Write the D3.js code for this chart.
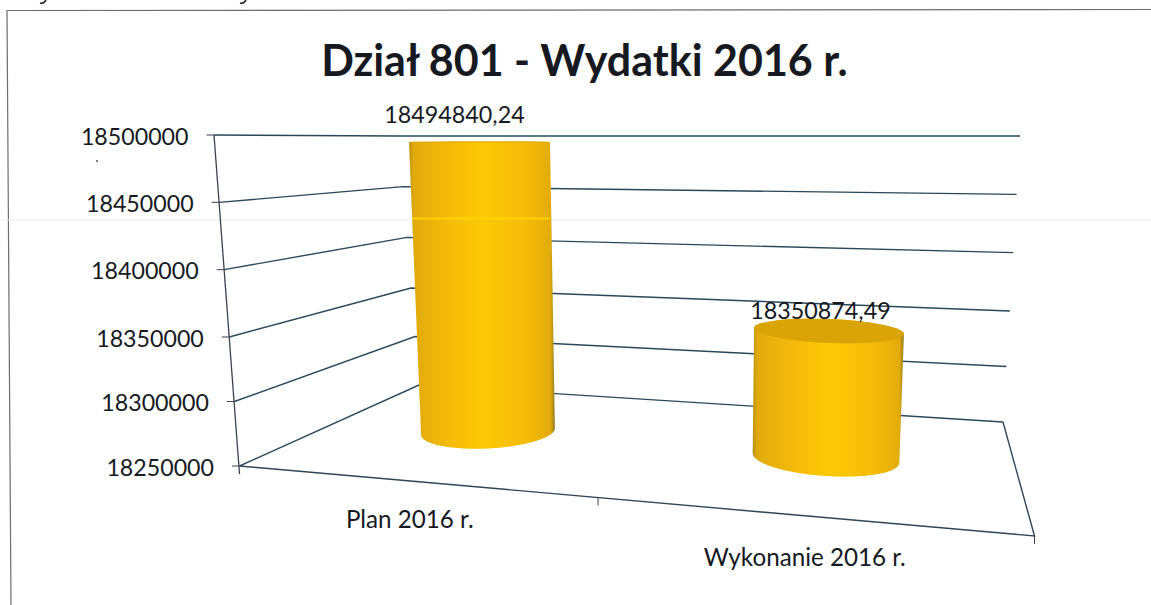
<!DOCTYPE html>
<html>
<head>
<meta charset="utf-8">
<script src="https://cdn.jsdelivr.net/npm/d3@7"></script>
<style>
  html, body { margin:0; padding:0; background:#fff; overflow:hidden; }
  svg { display:block; }
  text { font-family:Lato, "Open Sans", sans-serif; fill:#16191f; }
</style>
</head>
<body>
<svg id="chart" width="1151" height="605"></svg>
<script>
// ==================== DATA ====================
const title = "Dział 801 - Wydatki 2016 r.";
const categories = ["Plan 2016 r.", "Wykonanie 2016 r."];
const values = [18494840.24, 18350874.49];
const valueLabels = ["18494840,24", "18350874,49"];
const yTicks = [18250000, 18300000, 18350000, 18400000, 18450000, 18500000];

// ==================== 3D LAYOUT ====================
const yMin = yTicks[0], yMid = yTicks[2], yMax = yTicks[5];
const W = 1151, H = 605;

// one pair of scales per vertical edge of the box (3 stops because of the perspective)
function edge(xs, ys){
    return {
        x: d3.scaleLinear().domain([yMin, yMax]).range(xs),
        y: d3.scaleLinear().domain([yMin, yMid, yMax]).range(ys)
    };
}
const frontEdge = edge([239.5, 214], [466, 337, 135]);
const backEdge  = edge([419, 399],   [385, 288, 136]);
const rightEdge = edge([1003, 1020], [422, 311, 136]);

// floor front line, category positions along it
const floorX = d3.scaleLinear().domain([0, 1, 2]).range([239.5, 598, 1034.5]);
const floorY = d3.scaleLinear().domain([floorX(0), floorX(2)]).range([466, 536]);

// each column: ellipse at the floor and at the top of the value range
const columnGeom = [
    { cx:[488, 479.3], cy:[431.5, 135.9], rx:[67, 70.6], ry:[17, 0.2], tilt:[-3, 0],
      labelDx:-25, labelDy:-19.5, catDx:-9, catY:528 },
    { cx:[826, 833.4], cy:[458, 143.3], rx:[73.5, 77.2], ry:[18, 3.1], tilt:[3.9, 0],
      labelDx:-8.5, labelDy:-12, catDx:-11.5, catY:566 }
];

// ==================== DRAW ====================
const svg = d3.select("#chart");

const defs = svg.append("defs");
const grad = defs.append("linearGradient").attr("id", "cylinder");
[[0, "#b8921a"], [0.03, "#e0aa0e"], [0.25, "#f3b90b"], [0.5, "#fdc905"],
 [0.8, "#f5bc09"], [0.97, "#e2ac0c"], [1, "#8f7a20"]].forEach(s => {
    grad.append("stop").attr("offset", s[0]).attr("stop-color", s[1]);
});

// chart frame + scan leftovers
svg.append("path")
    .attr("d", "M11,605L7,10.5L1151,9.5")
    .attr("fill", "none").attr("stroke", "#6d6d6d").attr("stroke-width", 1.2);
svg.append("line")
    .attr("x1", 0).attr("x2", W).attr("y1", 220).attr("y2", 220)
    .attr("stroke", "#ececec").attr("stroke-width", 1);
svg.append("circle").attr("cx", 97).attr("cy", 161).attr("r", 1).attr("fill", "#555");
[43, 243].forEach(x => {
    svg.append("path")
        .attr("d", `M${x+3},0Q${x+1},4 ${x-3},3`)
        .attr("fill", "none").attr("stroke", "#222").attr("stroke-width", 1.6);
});

svg.append("text")
    .attr("x", 584.5).attr("y", 76)
    .attr("text-anchor", "middle")
    .style("font-size", "43px").style("font-weight", "700")
    .text(title);

// gridlines: front edge -> back corner -> right edge
const gridLine = d3.line();
svg.append("g").selectAll("path")
    .data(yTicks)
    .join("path")
    .attr("fill", "none")
    .attr("stroke", "#28495c")
    .attr("stroke-width", 1.4)
    .attr("d", v => gridLine([
        [frontEdge.x(v), frontEdge.y(v)],
        [backEdge.x(v), backEdge.y(v)],
        [rightEdge.x(v), rightEdge.y(v)]
    ]));

const axisColor = "#3a3f52";

// value axis
svg.append("line")
    .attr("x1", frontEdge.x(yMax)).attr("y1", frontEdge.y(yMax))
    .attr("x2", frontEdge.x(yMin)).attr("y2", frontEdge.y(yMin) + 8)
    .attr("stroke", axisColor).attr("stroke-width", 1.3);

const tick = svg.append("g").selectAll("g")
    .data(yTicks)
    .join("g")
    .attr("transform", v => `translate(${frontEdge.x(v)},${frontEdge.y(v)})`);
tick.append("line")
    .attr("x1", -7.5).attr("x2", 0)
    .attr("stroke", axisColor).attr("stroke-width", 1);
tick.append("text")
    .attr("x", -25.5).attr("y", 9.5)
    .attr("text-anchor", "end")
    .style("font-size", "23.2px")
    .text(v => v);

// floor
svg.append("path")
    .attr("d", d3.line()([[floorX(0), floorY(floorX(0))], [floorX(2), floorY(floorX(2))],
                          [rightEdge.x(yMin), rightEdge.y(yMin)]]))
    .attr("fill", "none").attr("stroke", "#2f4658").attr("stroke-width", 1.4);
svg.append("g").selectAll("line")
    .data([1, 2])
    .join("line")
    .attr("x1", i => floorX(i)).attr("x2", i => floorX(i))
    .attr("y1", i => floorY(floorX(i))).attr("y2", i => floorY(floorX(i)) + 8)
    .attr("stroke", axisColor).attr("stroke-width", 1);

// columns
function geomAt(g, v){
    const s = r => d3.scaleLinear().domain([yMin, yMax]).range(r)(v);
    return { cx:s(g.cx), cy:s(g.cy), rx:s(g.rx), ry:s(g.ry), tilt:s(g.tilt) };
}
function ends(e){
    const a = e.tilt * Math.PI / 180;
    return {
        x0:e.cx - e.rx * Math.cos(a), y0:e.cy - e.rx * Math.sin(a),
        x1:e.cx + e.rx * Math.cos(a), y1:e.cy + e.rx * Math.sin(a)
    };
}

const column = svg.append("g").selectAll("g")
    .data(values.map((v, i) => ({ v, i, g:columnGeom[i] })))
    .join("g");

column.append("path")
    .attr("fill", "url(#cylinder)")
    .attr("d", d => {
        const b = geomAt(d.g, yMin), t = geomAt(d.g, d.v);
        const eb = ends(b), et = ends(t);
        return `M${et.x0},${et.y0}L${eb.x0},${eb.y0}`
            + `A${b.rx},${b.ry} ${b.tilt} 0 0 ${eb.x1},${eb.y1}`
            + `L${et.x1},${et.y1}`
            + `A${t.rx},${t.ry} ${t.tilt} 0 0 ${et.x0},${et.y0}Z`;
    });
column.append("ellipse")
    .attr("cx", 0).attr("cy", 0)
    .attr("transform", d => {
        const t = geomAt(d.g, d.v);
        return `translate(${t.cx},${t.cy}) rotate(${t.tilt})`;
    })
    .attr("rx", d => geomAt(d.g, d.v).rx)
    .attr("ry", d => geomAt(d.g, d.v).ry)
    .attr("fill", "#d9a406");

// scan band over the first column
svg.append("line")
    .attr("x1", 412).attr("x2", 550).attr("y1", 218.5).attr("y2", 218.5)
    .attr("stroke", "#ffdc00").attr("stroke-width", 2).attr("opacity", 0.8);

// value labels
svg.append("g").selectAll("text")
    .data(values.map((v, i) => ({ v, i, g:columnGeom[i] })))
    .join("text")
    .attr("x", d => geomAt(d.g, d.v).cx + d.g.labelDx)
    .attr("y", d => geomAt(d.g, d.v).cy + d.g.labelDy)
    .attr("text-anchor", "middle")
    .style("font-size", "23.3px")
    .text(d => valueLabels[d.i]);

// category labels
svg.append("g").selectAll("text")
    .data(categories)
    .join("text")
    .attr("x", (c, i) => floorX(i + 0.5) + columnGeom[i].catDx)
    .attr("y", (c, i) => columnGeom[i].catY)
    .attr("text-anchor", "middle")
    .style("font-size", "24.2px")
    .text(c => c);
</script>
</body>
</html>
